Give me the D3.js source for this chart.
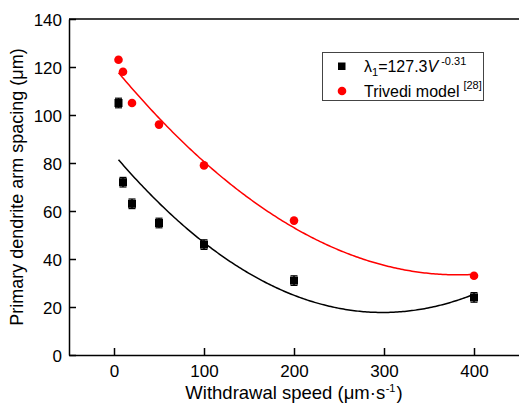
<!DOCTYPE html>
<html>
<head>
<meta charset="utf-8">
<script src="https://cdn.jsdelivr.net/npm/d3@7"></script>
<style>
  html, body { margin: 0; padding: 0; background: #fff; }
  svg { display: block; font-family: "Liberation Sans", Arial, sans-serif; }
</style>
</head>
<body>
<svg id="chart" width="519" height="403"></svg>
<script>
// Withdrawal speeds (µm/s)
const speeds = [5, 10, 20, 50, 100, 200, 400];
// Measured primary dendrite arm spacing (µm) with error
const measured = [105, 72, 63, 55, 46, 31, 24];
const measuredErr = [2, 2, 2, 2, 2, 2, 2];
// Trivedi model prediction (µm)
const trivedi = [123, 118, 105, 96, 79, 56, 33];
// Axis ticks
const xTicks = [0, 100, 200, 300, 400];
const yTicks = [0, 20, 40, 60, 80, 100, 120, 140];

const svg = d3.select("#chart");
const plotL = 69, plotR = 519, plotT = 19, plotB = 355;

const x = d3.scaleLinear().domain([-50, 450]).range([plotL, plotR]);
const y = d3.scaleLinear().domain([0, 140]).range([plotB, plotT]);

// Least-squares quadratic fit y = a + b x + c x^2
function quadFit(xs, ys) {
  const n = xs.length;
  let s = [0, 0, 0, 0, 0], t = [0, 0, 0];
  for (let i = 0; i < n; i++) {
    const xi = xs[i], yi = ys[i];
    for (let k = 0; k < 5; k++) s[k] += Math.pow(xi, k);
    for (let k = 0; k < 3; k++) t[k] += yi * Math.pow(xi, k);
  }
  const A = [[s[0], s[1], s[2], t[0]], [s[1], s[2], s[3], t[1]], [s[2], s[3], s[4], t[2]]];
  for (let i = 0; i < 3; i++) {
    let p = i;
    for (let r = i + 1; r < 3; r++) if (Math.abs(A[r][i]) > Math.abs(A[p][i])) p = r;
    [A[i], A[p]] = [A[p], A[i]];
    for (let r = 0; r < 3; r++) {
      if (r === i) continue;
      const f = A[r][i] / A[i][i];
      for (let c = i; c < 4; c++) A[r][c] -= f * A[i][c];
    }
  }
  const coef = [A[0][3] / A[0][0], A[1][3] / A[1][1], A[2][3] / A[2][2]];
  return v => coef[0] + coef[1] * v + coef[2] * v * v;
}

const fitBlack = quadFit(speeds, measured);
const fitRed = quadFit(speeds, trivedi);
const xs = d3.range(speeds[0], speeds[speeds.length - 1] + 0.5, 2);

const line = f => d3.line().x(d => x(d)).y(d => y(f(d)));

// Frame: top line
svg.append("line")
  .attr("x1", plotL).attr("x2", plotR).attr("y1", plotT).attr("y2", plotT)
  .attr("stroke", "#000").attr("stroke-width", 1.5);

// Axes with inward ticks
const xAxis = svg.append("g").attr("transform", `translate(0,${plotB})`)
  .call(d3.axisBottom(x).tickValues(xTicks).tickSizeInner(-7).tickSizeOuter(0).tickPadding(10));
const yAxis = svg.append("g").attr("transform", `translate(${plotL},0)`)
  .call(d3.axisLeft(y).tickValues(yTicks).tickSizeInner(-7).tickSizeOuter(0).tickPadding(7));

[xAxis, yAxis].forEach(g => {
  g.select(".domain").attr("stroke", "#000").attr("stroke-width", 1.5);
  g.selectAll(".tick line").attr("stroke", "#000").attr("stroke-width", 1.5);
  g.selectAll(".tick text").attr("fill", "#000")
    .style("font-family", "'Liberation Sans', Arial, sans-serif").style("font-size", "17px");
});
yAxis.selectAll(".tick text").attr("dy", "0.36em");

// Axis titles
const xt = svg.append("text").attr("x", (plotL + plotR) / 2).attr("y", 399)
  .attr("text-anchor", "middle").style("font-size", "18.5px").attr("fill", "#000");
xt.append("tspan").text("Withdrawal speed (μm·s");
xt.append("tspan").attr("dy", -7).attr("dx", 0.5).style("font-size", "11px").text("-1");
xt.append("tspan").attr("dy", 7).attr("dx", 1).text(")");

svg.append("text")
  .attr("transform", `translate(23,${(plotT + plotB) / 2}) rotate(-90)`)
  .attr("text-anchor", "middle").style("font-size", "18px").attr("fill", "#000")
  .text("Primary dendrite arm spacing (μm)");

// Fit curves
svg.append("path").datum(xs).attr("d", line(fitBlack))
  .attr("fill", "none").attr("stroke", "#000").attr("stroke-width", 1.5);
svg.append("path").datum(xs).attr("d", line(fitRed))
  .attr("fill", "none").attr("stroke", "#f00").attr("stroke-width", 1.5);

// Measured points with error bars
const pts = speeds.map((s, i) => ({ s, v: measured[i], e: measuredErr[i] }));
const eb = svg.append("g");
pts.forEach(d => {
  const cx = x(d.s);
  eb.append("line").attr("x1", cx).attr("x2", cx).attr("y1", y(d.v - d.e)).attr("y2", y(d.v + d.e))
    .attr("stroke", "#000").attr("stroke-width", 1.5);
  [d.v - d.e, d.v + d.e].forEach(v => eb.append("line")
    .attr("x1", cx - 3.5).attr("x2", cx + 3.5).attr("y1", y(v)).attr("y2", y(v))
    .attr("stroke", "#000").attr("stroke-width", 1.2));
});
svg.append("g").selectAll("rect").data(pts).join("rect")
  .attr("x", d => x(d.s) - 4).attr("y", d => y(d.v) - 4)
  .attr("width", 8).attr("height", 8).attr("fill", "#000");

// Trivedi model points
svg.append("g").selectAll("circle").data(speeds.map((s, i) => ({ s, v: trivedi[i] }))).join("circle")
  .attr("cx", d => x(d.s)).attr("cy", d => y(d.v)).attr("r", 4.3).attr("fill", "#f00");

// Legend
const lg = svg.append("g");
lg.append("rect").attr("x", 322.5).attr("y", 52.5).attr("width", 161).attr("height", 48)
  .attr("fill", "#fff").attr("stroke", "#444").attr("stroke-width", 1);
lg.append("rect").attr("x", 338).attr("y", 62.5).attr("width", 7.5).attr("height", 7.5).attr("fill", "#000");
lg.append("circle").attr("cx", 342).attr("cy", 91).attr("r", 4.3).attr("fill", "#f00");

const t1 = lg.append("text").attr("x", 364).attr("y", 72).style("font-size", "16px").attr("fill", "#000");
t1.append("tspan").text("λ");
t1.append("tspan").attr("dy", 4).style("font-size", "11px").text("1");
t1.append("tspan").attr("dy", -4).text("=127.3");
t1.append("tspan").style("font-style", "italic").text("V");
t1.append("tspan").attr("dy", -7).attr("dx", 3).style("font-size", "11px").text("-0.31");

const t2 = lg.append("text").attr("x", 364).attr("y", 97).style("font-size", "16px").attr("fill", "#000");
t2.append("tspan").text("Trivedi model");
t2.append("tspan").attr("dy", -8).attr("dx", 4).style("font-size", "11px").text("[28]");
</script>
</body>
</html>
